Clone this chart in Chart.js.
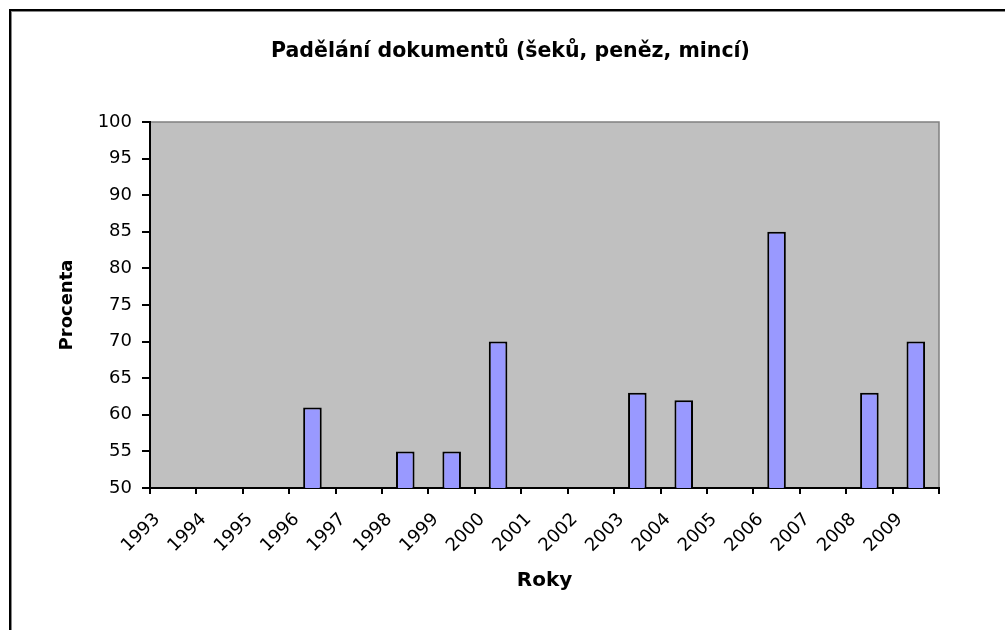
<!DOCTYPE html>
<html>
<head>
<meta charset="utf-8">
<script src="https://cdn.jsdelivr.net/npm/chart.js@4/dist/chart.umd.min.js"></script>
<style>
  html, body { margin: 0; padding: 0; background: #fff; }
  #wrap { position: relative; width: 1005px; height: 630px; overflow: hidden; }
  #frame { position: absolute; left: 9px; top: 9px; width: 1200px; height: 800px;
           border-left: 2px solid #000; border-top: 2px solid #000;
           box-shadow: inset 1px 1px 0 #888; pointer-events: none; }
  canvas { position: absolute; left: 0; top: 0; }
</style>
</head>
<body>
<div id="wrap">
  <canvas id="c" width="1005" height="630"></canvas>
  <div id="frame"></div>
</div>
<script>
const categories = ['1993','1994','1995','1996','1997','1998','1999','2000','2001','2002','2003','2004','2005','2006','2007','2008','2009'];
const percentValues = [null, null, null, 61, null, 55, 55, 70, null, null, 63, 62, null, 85, null, 63, 70];
const yTicks = [50, 55, 60, 65, 70, 75, 80, 85, 90, 95, 100];

const chartTitle = 'Padělání dokumentů (šeků, peněz, mincí)';
const xTitle = 'Roky';
const yTitle = 'Procenta';

const FONT = '"DejaVu Sans", Verdana, sans-serif';

const plotBg = {
  id: 'plotBg',
  afterLayout(chart) {
    const t = chart.titleBlock;
    if (t) { t.left += 41; t.right += 41; }
  },
  beforeDraw(chart) {
    const {ctx, chartArea: a} = chart;
    ctx.save();
    ctx.fillStyle = '#C0C0C0';
    ctx.fillRect(a.left, a.top, a.right - a.left, a.bottom - a.top);
    ctx.strokeStyle = '#808080';
    ctx.lineWidth = 1.5;
    ctx.strokeRect(a.left, a.top, a.right - a.left, a.bottom - a.top);
    ctx.restore();
  }
};

new Chart(document.getElementById('c'), {
  type: 'bar',
  data: {
    labels: categories,
    datasets: [{
      label: yTitle,
      data: percentValues,
      backgroundColor: '#9999FF',
      borderColor: '#000000',
      borderWidth: 2,
      borderSkipped: false,
      barPercentage: 0.4,
      categoryPercentage: 1.0
    }]
  },
  options: {
    responsive: false,
    animation: false,
    devicePixelRatio: 1,
    layout: { padding: { left: 0, right: 66, top: 0, bottom: 0 } },
    plugins: {
      legend: { display: false },
      tooltip: { enabled: false },
      title: {
        display: true,
        text: chartTitle,
        color: '#000',
        font: { family: FONT, size: 20.5, weight: 'bold', lineHeight: 1.2 },
        padding: { top: 39.7, bottom: 57.7 }
      }
    },
    scales: {
      x: {
        offset: true,
        grid: { offset: true, drawOnChartArea: false, drawTicks: true, tickLength: 6, color: '#000', lineWidth: 2 },
        border: { display: true, color: '#000', width: 2 },
        ticks: {
          autoSkip: false, minRotation: 45, maxRotation: 45,
          labelOffset: -16, padding: 15,
          color: '#000',
          font: { family: FONT, size: 18 }
        },
        title: {
          display: true, text: xTitle, color: '#000',
          font: { family: FONT, size: 20, weight: 'bold', lineHeight: 1.2 },
          padding: { top: 0, bottom: 37 }
        },
        afterFit(scale) { scale.height = 142; }
      },
      y: {
        min: 50, max: 100,
        afterBuildTicks(scale) { scale.ticks = yTicks.map(v => ({ value: v })); },
        grid: { drawOnChartArea: false, drawTicks: true, tickLength: 8, color: '#000', lineWidth: 2 },
        border: { display: true, color: '#000', width: 2 },
        ticks: {
          color: '#000', padding: 10,
          font: { family: FONT, size: 18 }
        },
        title: {
          display: true, text: yTitle, color: '#000',
          font: { family: FONT, size: 18, weight: 'bold', lineHeight: 1.2 },
          padding: { top: 56.7, bottom: 0 }
        },
        afterFit(scale) { scale.width = 150; }
      }
    }
  },
  plugins: [plotBg]
});
</script>
</body>
</html>
